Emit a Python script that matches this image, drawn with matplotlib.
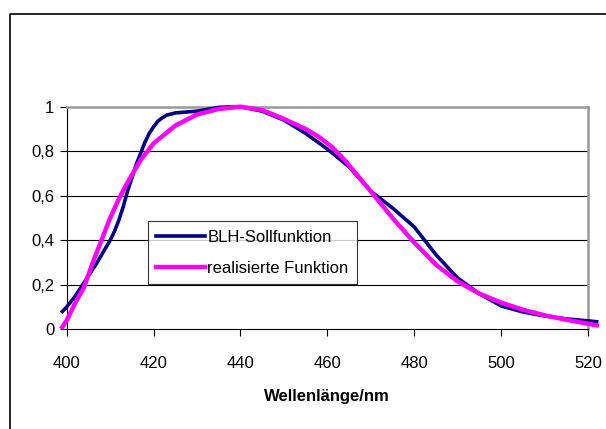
import matplotlib.pyplot as plt
from matplotlib.lines import Line2D

plt.rcParams['font.family'] = ['Liberation Sans', 'DejaVu Sans']

# BLH-Sollfunktion (target curve)
soll_nm = [399, 400, 402, 404, 407, 410, 411, 412, 413, 414, 415, 416, 417, 418, 419,
           420, 421, 422, 423, 425, 430, 435, 438, 440, 445, 450, 455, 460, 465, 470,
           475, 480, 485, 490, 495, 500, 505, 510, 515, 520, 522]
soll_val = [0.08, 0.10, 0.15, 0.21, 0.30, 0.40, 0.44, 0.49, 0.55, 0.62, 0.68, 0.74,
            0.79, 0.84, 0.88, 0.91, 0.935, 0.95, 0.962, 0.972, 0.98, 0.997, 1.0, 1.0,
            0.98, 0.94, 0.88, 0.81, 0.73, 0.62, 0.545, 0.46, 0.335, 0.23, 0.16, 0.105,
            0.078, 0.06, 0.047, 0.038, 0.034]

# realisierte Funktion (realised curve)
real_nm = [399, 400, 402, 404, 406, 408, 410, 412, 414, 417, 420, 425, 430, 435, 440,
           445, 450, 455, 458, 461, 464, 467, 470, 475, 480, 485, 490, 495, 500, 505,
           510, 515, 520, 522]
real_val = [0.01, 0.04, 0.12, 0.19, 0.30, 0.40, 0.50, 0.585, 0.66, 0.76, 0.835, 0.915,
            0.965, 0.99, 1.0, 0.985, 0.945, 0.90, 0.865, 0.82, 0.76, 0.69, 0.62, 0.50,
            0.39, 0.29, 0.215, 0.16, 0.12, 0.088, 0.063, 0.043, 0.025, 0.018]

x_ticks = [400, 420, 440, 460, 480, 500, 520]
y_ticks = [0, 0.2, 0.4, 0.6, 0.8, 1]
y_labels = ["0", "0,2", "0,4", "0,6", "0,8", "1"]

fig = plt.figure(figsize=(6.06, 4.29), dpi=100)
ax = fig.add_axes([66.7 / 606, 1 - 329.3 / 429, (588 - 66.7) / 606, (329.3 - 106.7) / 429])

# outer chart frame (runs off the right and bottom edge)
fig.add_artist(Line2D([10 / 606, 10 / 606, 1.01], [-0.01, 1 - 14 / 429, 1 - 14 / 429],
                      transform=fig.transFigure, color='black', lw=1.2))

for y in y_ticks[1:-1]:
    ax.axhline(y, color='black', lw=0.8, zorder=1)

ax.plot(soll_nm, soll_val, color='#000080', lw=2.6, label='BLH-Sollfunktion',
        clip_on=False, zorder=3)
ax.plot(real_nm, real_val, color='#FF00FF', lw=3.2, label='realisierte Funktion',
        clip_on=False, zorder=4)

ax.set_xlim(400, 520)
ax.set_ylim(0, 1)
ax.set_xticks(x_ticks)
ax.set_yticks(y_ticks)
ax.set_yticklabels(y_labels)
ax.tick_params(axis='both', direction='out', length=5, width=0.8, labelsize=12, pad=4)
ax.tick_params(axis='x', pad=14)

ax.spines['left'].set_color('black')
ax.spines['bottom'].set_color('black')
ax.spines['top'].set_color('#999999')
ax.spines['right'].set_color('#999999')
ax.spines['top'].set_linewidth(1.8)
ax.spines['right'].set_linewidth(1.8)

ax.set_xlabel('Wellenlänge/nm', fontsize=12, fontweight='bold', labelpad=13)

leg = ax.legend(loc='lower left', bbox_to_anchor=((148 - 66.7) / 521.3, (329.3 - 284) / 222.6),
                frameon=True, fancybox=False, edgecolor='black', fontsize=12,
                handlelength=2.9, handletextpad=0.15, borderpad=0.5, labelspacing=0.95,
                borderaxespad=0)
leg.get_frame().set_linewidth(0.8)
leg.set_zorder(5)

fig.savefig('out.png', dpi=100)
